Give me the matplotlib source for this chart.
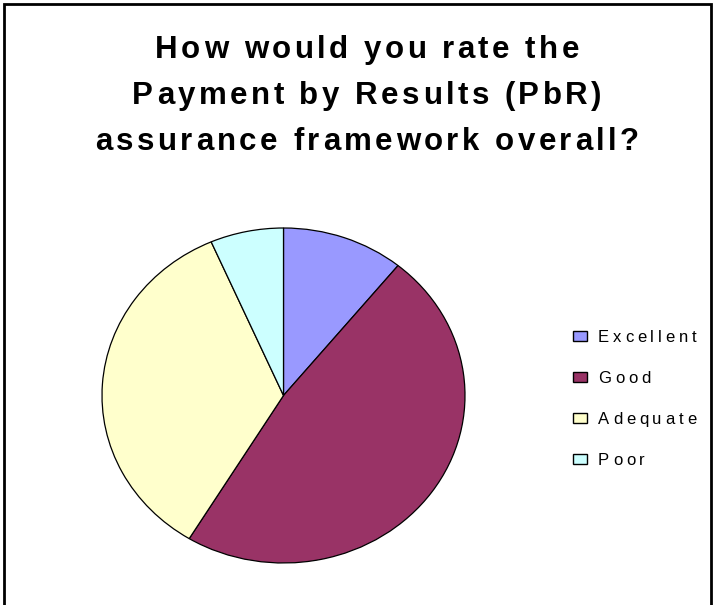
import matplotlib
matplotlib.use("Agg")
import matplotlib.pyplot as plt
from matplotlib.patches import Rectangle
from matplotlib.font_manager import FontProperties

categories = ["Excellent", "Good", "Adequate", "Poor"]
counts = [5, 22, 16, 3]
colors = ["#9999FF", "#993366", "#FFFFCC", "#CCFFFF"]
title_lines = ["How would you rate the",
               "Payment by Results (PbR)",
               "assurance framework overall?"]

W, H = 715, 605
fig = plt.figure(figsize=(W / 100, H / 100), dpi=100)
fig.patch.set_facecolor("white")
renderer = fig.canvas.get_renderer()


def spaced_text(x, y, s, prop, spacing, align="left"):
    """Draw s with extra tracking (pixels) between characters; y is the baseline."""
    def width(t):
        if not t:
            return 0.0
        w, _, _ = renderer.get_text_width_height_descent(t, prop, ismath=False)
        return w
    total = width(s) + spacing * (len(s) - 1)
    x0 = x - total / 2 if align == "center" else x
    for i, ch in enumerate(s):
        if ch == " ":
            continue
        xi = x0 + width(s[:i]) + spacing * i
        fig.text(xi / W, 1 - y / H, ch, ha="left", va="baseline",
                 fontproperties=prop)


# outer chart frame
fig.add_artist(Rectangle((4 / W, -0.05), 707 / W, 1.05 - 4 / H,
                         transform=fig.transFigure, fill=False,
                         edgecolor="black", linewidth=2))

# title
title_prop = FontProperties(family="Liberation Sans", weight="bold", size=22.5)
for i, line in enumerate(title_lines):
    spaced_text(367, 58 + i * 46, line, title_prop, 3.5, align="center")

# pie (slightly elliptical, drawn clockwise from 12 o'clock)
ax = fig.add_axes([102 / W, 42 / H, 363 / W, 335 / H])
ax.pie(counts, colors=colors, startangle=90, counterclock=False,
       wedgeprops=dict(edgecolor="black", linewidth=0.9))
ax.set_aspect("auto")
ax.set_xlim(-1.0, 1.0)
ax.set_ylim(-1.0, 1.0)
ax.axis("off")

# legend
legend_prop = FontProperties(family="Liberation Sans", size=12)
for i, (name, c) in enumerate(zip(categories, colors)):
    yc = 336 + i * 41
    fig.add_artist(Rectangle((573 / W, 1 - (yc + 5) / H), 14 / W, 10 / H,
                             transform=fig.transFigure, facecolor=c,
                             edgecolor="black", linewidth=1))
    spaced_text(598, yc + 6, name, legend_prop, 3.8)

fig.savefig("out.png", dpi=100)
